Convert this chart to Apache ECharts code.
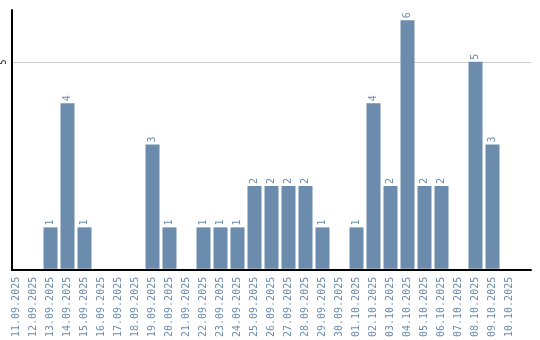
<!DOCTYPE html>
<html><head><meta charset="utf-8">
<script src="https://cdn.jsdelivr.net/npm/echarts@6/dist/echarts.min.js"></script>
<style>html,body{margin:0;padding:0;background:#fff}#c{width:540px;height:340px}</style>
</head><body><div id="c"></div>
<script>
const categories = ["11.09.2025","12.09.2025","13.09.2025","14.09.2025","15.09.2025","16.09.2025","17.09.2025","18.09.2025","19.09.2025","20.09.2025","21.09.2025","22.09.2025","23.09.2025","24.09.2025","25.09.2025","26.09.2025","27.09.2025","28.09.2025","29.09.2025","30.09.2025","01.10.2025","02.10.2025","03.10.2025","04.10.2025","05.10.2025","06.10.2025","07.10.2025","08.10.2025","09.10.2025","10.10.2025"];
const values = [0,0,1,4,1,0,0,0,3,1,0,1,1,1,2,2,2,2,1,0,1,4,2,6,2,2,0,5,3,0];
const yMax = 6.25;
const yInterval = 5;
const labelColor = '#6b8cad';
const chart = echarts.init(document.getElementById('c'));
chart.setOption({
  animation: false,
  grid: [
    {left: 8, right: 22, top: 10, bottom: 70},
    {left: 11, right: 9, top: 10, bottom: 70}
  ],
  xAxis: [{
    type: 'category', data: categories, gridIndex: 0,
    axisLine: {show: false},
    axisTick: {show: false},
    axisLabel: {rotate: 90, interval: 0, fontSize: 10, fontFamily: 'DejaVu Sans Mono', color: labelColor, margin: 8}
  }, {
    type: 'value', gridIndex: 1, min: 0, max: 1,
    axisLine: {show: true, onZero: false, lineStyle: {color: '#000', width: 2}},
    axisTick: {show: false}, axisLabel: {show: false}, splitLine: {show: false}
  }],
  yAxis: [{
    type: 'value', gridIndex: 0, min: 0, max: yMax, interval: yInterval,
    axisLine: {show: false}, axisTick: {show: false}, axisLabel: {show: false}, splitLine: {show: false}
  }, {
    type: 'value', gridIndex: 1, min: 0, max: yMax, interval: yInterval,
    axisLine: {show: true, lineStyle: {color: '#000', width: 2}},
    axisTick: {show: false},
    splitLine: {show: true, showMinLine: false, showMaxLine: false, lineStyle: {color: '#cccccc', width: 1}},
    axisLabel: {rotate: 90, fontSize: 8, fontFamily: 'DejaVu Sans Mono', color: '#000', margin: 4,
      showMinLabel: false, showMaxLabel: false, formatter: v => v === 5 ? '5' : ''}
  }],
  series: [{
    type: 'bar', xAxisIndex: 0, yAxisIndex: 0,
    data: values.map(v => v === 0 ? null : v),
    barWidth: 14,
    itemStyle: {color: '#6b8cad'},
    label: {show: true, position: 'top', rotate: 90, align: 'left', verticalAlign: 'middle', distance: 2,
      fontSize: 10, fontFamily: 'DejaVu Sans Mono', color: labelColor}
  }]
});
</script></body></html>
